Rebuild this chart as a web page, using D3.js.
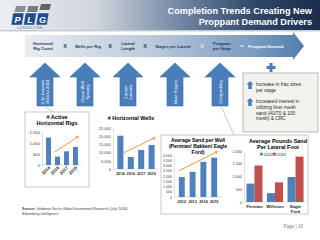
<!DOCTYPE html>
<html>
<head>
<meta charset="utf-8">
<script src="https://cdn.jsdelivr.net/npm/d3@7"></script>
<style>
  body { margin: 0; background: #fff; }
  svg { display: block; }
</style>
</head>
<body>
<div id="slide"></div>
<script>
// ---- data ----
const rigYears = ['2014', '2016', '2017', '2019'];
const rigCounts = [1250, 380, 620, 820];
const rigTicks = [0, 500, 1000, 1500];

const wellYears = ['2014', '2016', '2017', '2019'];
const wellCounts = [20300, 7300, 11600, 14600];
const wellTicks = [0, 5000, 10000, 15000, 20000, 25000];

const sandYears = ['2012', '2013', '2014', '2015'];
const sandPerWell = [1900, 2400, 3350, 3750];
const sandTicks = [0, 500, 1000, 1500, 2000, 2500, 3000, 3500, 4000];

const basins = ['Permian', 'Williston', 'Eagle Ford'];
const lbsYears = ['2012', '2015'];
const lbs2012 = [720, 350, 980];
const lbs2015 = [1430, 770, 1780];
const lbsTicks = [0, 500, 1000, 1500, 2000];

const drivers = [['2.1x increase', '2016 to 2018'], ['Closer Well', 'Spacing'], ['Longer', 'Laterals'], ['More Stages'], ['Overpacking']];
const equation = [['Horizontal', 'Rig Count'], ['X'], ['Wells per Rig'], ['X'], ['Lateral', 'Length'], ['X'], ['Stages per Lateral'], ['X'], ['Proppant', 'per Stage'], ['='], ['Proppant Demand']];
const notes = [['Increase in frac sizes', 'per stage'], ['Increased interest in', 'utilizing finer mesh', 'sand (40/70 & 100', 'mesh) & CRC']];

// ---- layout ----
const W = 320, H = 240;
const font = '"Liberation Sans", Arial, sans-serif';
const blue = '#4f81bd', red = '#c0504d', orange = '#f79646', arrowBlue = '#4a7ebb', navy = '#1f3864';

const svg = d3.select('#slide').append('svg')
    .attr('width', W).attr('height', H)
    .attr('font-family', font);
const defs = svg.append('defs');

function gradient(id, stops) {
    const g = defs.append('linearGradient').attr('id', id);
    stops.forEach(([o, c]) => g.append('stop').attr('offset', o).attr('stop-color', c));
}
gradient('hdr', [[0, '#eceef1'], [0.3, '#cfd5dc'], [0.58, '#6d82a0'], [0.8, '#2f4668'], [1, '#1b2d4b']]);
gradient('band', [[0, '#e9edf2'], [0.45, '#bccadb'], [0.8, '#7e9dc1'], [1, '#517dad']]);

defs.append('marker')
    .attr('id', 'tip').attr('viewBox', '0 0 10 10')
    .attr('refX', 6).attr('refY', 5)
    .attr('markerWidth', 3.5).attr('markerHeight', 3.5)
    .attr('orient', 'auto')
    .append('path').attr('d', 'M0,0 L10,5 L0,10 z').attr('fill', orange);

// header
svg.append('rect').attr('width', W).attr('height', 30).attr('fill', 'url(#hdr)');
svg.append('rect').attr('y', 30).attr('width', W).attr('height', 1.5).attr('fill', '#c9cdd3');
svg.append('g').selectAll('text')
    .data(['Completion Trends Creating New', 'Proppant Demand Drivers'])
    .join('text')
    .attr('x', 312).attr('y', (d, i) => 14 + i * 11)
    .attr('text-anchor', 'end')
    .attr('fill', '#fff').attr('font-weight', 'bold').attr('font-size', 9.2)
    .text(d => d);

// logo
const logo = svg.append('g').attr('transform', 'translate(10,5)');
['P', 'L', 'G'].forEach((l, i) => {
    const x = i * 12.5;
    logo.append('path')
        .attr('d', `M${x + 6},${i === 2 ? -1 : 1} h10 l-1.5,6 h-10 z`)
        .attr('fill', ['#8a9097', '#757b82', '#5f656c'][i]);
    logo.append('path')
        .attr('d', `M${x + 3},8 h11 l-2,12 h-11 z`)
        .attr('fill', '#1f4e8c').attr('stroke', '#fff').attr('stroke-width', 0.4);
    logo.append('text')
        .attr('x', x + 7.5).attr('y', 18)
        .attr('text-anchor', 'middle')
        .attr('fill', '#fff').attr('font-weight', 'bold').attr('font-style', 'italic').attr('font-size', 9)
        .text(l);
});
logo.append('text')
    .attr('x', 20).attr('y', 24)
    .attr('text-anchor', 'middle')
    .attr('fill', '#1f4e8c').attr('font-size', 2.6).attr('letter-spacing', 0.9)
    .text('CONSULTING');

// equation banner
svg.append('path')
    .attr('d', 'M25,35 H293 V32 L304,46 L293,60 V57 H25 Z')
    .attr('fill', 'url(#band)');
const eqX = [43, 65, 88, 110, 128, 145, 173, 202, 222, 242, 266];
equation.forEach((lines, i) => {
    const single = lines[0] === 'X' || lines[0] === '=';
    const t = svg.append('text')
        .attr('text-anchor', 'middle')
        .attr('fill', i >= 9 ? '#fff' : (i === 7 ? '#eee8c6' : navy))
        .attr('font-weight', 'bold')
        .attr('font-size', single ? 5.5 : 4.1);
    lines.forEach((s, j) => t.append('tspan')
        .attr('x', eqX[i])
        .attr('y', 47.5 + (j - (lines.length - 1) / 2) * 4.8)
        .text(s));
});

// up arrows for drivers
function upArrow(cx, top, bottom, headW, headH, shaftW) {
    return `M${cx},${top} L${cx + headW / 2},${top + headH} L${cx + shaftW / 2},${top + headH}` +
        ` L${cx + shaftW / 2},${bottom} L${cx - shaftW / 2},${bottom} L${cx - shaftW / 2},${top + headH}` +
        ` L${cx - headW / 2},${top + headH} Z`;
}
const driverX = [45, 85, 128, 175, 220];
drivers.forEach((lines, i) => {
    const cx = driverX[i];
    svg.append('path')
        .attr('d', upArrow(cx, 63, 106, 30, 14, 16))
        .attr('fill', arrowBlue).attr('stroke', '#3a69a3').attr('stroke-width', 0.6);
    const t = svg.append('text')
        .attr('transform', `translate(${cx},92) rotate(-90)`)
        .attr('text-anchor', 'middle')
        .attr('fill', '#fff').attr('font-size', 4.2);
    lines.forEach((s, j) => t.append('tspan')
        .attr('x', 0)
        .attr('y', 1.5 + (j - (lines.length - 1) / 2) * 4.8)
        .text(s));
});

// plus sign and note box
svg.append('path')
    .attr('d', 'M269.5,63 h3 v3 h3 v3 h-3 v3 h-3 v-3 h-3 v-3 h3 z')
    .attr('fill', arrowBlue);
svg.append('rect')
    .attr('x', 243).attr('y', 73).attr('width', 75).attr('height', 59)
    .attr('fill', '#f2f2ee').attr('stroke', '#8c8c8c').attr('stroke-width', 0.6);
const noteY = [86, 103];
notes.forEach((lines, i) => {
    svg.append('path')
        .attr('d', upArrow(250, noteY[i] - 5, noteY[i] + 3, 7, 3.5, 3.5))
        .attr('fill', arrowBlue);
    const t = svg.append('text').attr('fill', '#262626').attr('font-size', 4.8);
    lines.forEach((s, j) => t.append('tspan').attr('x', 256).attr('y', noteY[i] + j * 5.8).text(s));
});

// connector lines
svg.append('line').attr('x1', 44).attr('y1', 106).attr('x2', 53).attr('y2', 112)
    .attr('stroke', '#a6a6a6').attr('stroke-width', 0.6);
svg.append('line').attr('x1', 221).attr('y1', 106).attr('x2', 234).attr('y2', 135)
    .attr('stroke', '#a6a6a6').attr('stroke-width', 0.6);

// ---- chart helpers ----
function title(x, y, lines, size, gap) {
    svg.append('g').selectAll('text').data(lines).join('text')
        .attr('x', x).attr('y', (d, i) => y + i * gap)
        .attr('text-anchor', 'middle')
        .attr('font-weight', 'bold').attr('font-size', size).attr('fill', '#000')
        .text(d => d);
}

function yAxis(y, x0, ticks, size) {
    const g = svg.append('g')
        .attr('transform', `translate(${x0},0)`)
        .call(d3.axisLeft(y).tickValues(ticks).tickFormat(d3.format(',')).tickSize(0).tickPadding(2));
    g.select('.domain').attr('stroke', '#bfbfbf').attr('stroke-width', 0.5);
    g.selectAll('text').attr('font-size', size).attr('font-family', font).attr('fill', '#404040');
}

function baseline(x0, x1, y) {
    svg.append('line').attr('x1', x0).attr('x2', x1).attr('y1', y).attr('y2', y)
        .attr('stroke', '#bfbfbf').attr('stroke-width', 0.5);
}

function bars(x, y, cats, vals, color) {
    svg.append('g').selectAll('rect')
        .data(cats.map((c, i) => ({ c, v: vals[i] })))
        .join('rect')
        .attr('x', d => x(d.c)).attr('width', x.bandwidth())
        .attr('y', d => y(d.v)).attr('height', d => y(0) - y(d.v))
        .attr('fill', color);
}

function trend(xa, ya, xb, yb) {
    svg.append('line')
        .attr('x1', xa).attr('y1', ya).attr('x2', xb).attr('y2', yb)
        .attr('stroke', orange).attr('stroke-width', 1)
        .attr('marker-end', 'url(#tip)');
}

// chart 1: # Active Horizontal Rigs
svg.append('rect')
    .attr('x', 25).attr('y', 112).attr('width', 64).attr('height', 75)
    .attr('fill', '#fff').attr('stroke', '#a6a6a6').attr('stroke-width', 0.6);
title(57, 118.5, ['# Active', 'Horizontal Rigs'], 5.6, 6.8);
const x1 = d3.scaleBand().domain(rigYears).range([42, 82]).padding(0.45);
const y1 = d3.scaleLinear().domain([0, 1500]).range([165, 132]);
yAxis(y1, 42, rigTicks, 4.2);
baseline(42, 82, y1(0));
bars(x1, y1, rigYears, rigCounts, blue);
svg.append('g').selectAll('text').data(rigYears).join('text')
    .attr('transform', d => `translate(${x1(d) + x1.bandwidth() / 2 + 2},${y1(0) + 3}) rotate(-45)`)
    .attr('text-anchor', 'end')
    .attr('font-size', 4.4).attr('font-weight', 'bold').attr('fill', '#262626')
    .text(d => d);
trend(x1('2016'), y1(600), x1('2019') + x1.bandwidth(), y1(1280));

// chart 2: # Horizontal Wells
title(131, 120, ['# Horizontal Wells'], 5.4, 0);
const x2 = d3.scaleBand().domain(wellYears).range([113, 159]).padding(0.42);
const y2 = d3.scaleLinear().domain([0, 25000]).range([169, 128]);
yAxis(y2, 113, wellTicks, 4);
baseline(113, 159, y2(0));
bars(x2, y2, wellYears, wellCounts, blue);
svg.append('g').selectAll('text').data(wellYears).join('text')
    .attr('x', d => x2(d) + x2.bandwidth() / 2).attr('y', y2(0) + 5.5)
    .attr('text-anchor', 'middle')
    .attr('font-size', 3.8).attr('font-weight', 'bold').attr('fill', '#262626')
    .text(d => d);
trend(x2('2014') + x2.bandwidth(), y2(9800), x2('2019') + x2.bandwidth(), y2(19000));

// box around charts 3 and 4
svg.append('rect')
    .attr('x', 161).attr('y', 135).attr('width', 147).attr('height', 79)
    .attr('fill', '#fff').attr('stroke', '#a6a6a6').attr('stroke-width', 0.6);

// chart 3: Average Sand per Well
title(198, 142, ['Average Sand per Well', '(Permian/ Bakken/ Eagle', 'Ford)'], 5, 5.8);
const x3 = d3.scaleBand().domain(sandYears).range([174, 222]).padding(0.45);
const y3 = d3.scaleLinear().domain([0, 4000]).range([197, 155]);
yAxis(y3, 174, sandTicks, 3.6);
baseline(174, 222, y3(0));
bars(x3, y3, sandYears, sandPerWell, blue);
svg.append('g').selectAll('text').data(sandYears).join('text')
    .attr('x', d => x3(d) + x3.bandwidth() / 2).attr('y', y3(0) + 5.5)
    .attr('text-anchor', 'middle')
    .attr('font-size', 3.8).attr('font-weight', 'bold').attr('fill', '#262626')
    .text(d => d);
trend(x3('2012'), y3(2500), x3('2015') + x3.bandwidth(), y3(4300));

// chart 4: Average Pounds Sand Per Lateral Foot
title(278, 143, ['Average Pounds Sand', 'Per Lateral Foot'], 5.5, 6);
const x4 = d3.scaleBand().domain(basins).range([244, 306]).paddingInner(0.22).paddingOuter(0.12);
const x4s = d3.scaleBand().domain(lbsYears).range([0, x4.bandwidth()]);
const y4 = d3.scaleLinear().domain([0, 2000]).range([202, 151]);
const c4 = d3.scaleOrdinal().domain(lbsYears).range([blue, red]);
yAxis(y4, 244, lbsTicks, 3.8);
baseline(244, 306, y4(0));
const lbsRows = basins.flatMap((b, i) => [
    { b, yr: '2012', v: lbs2012[i] },
    { b, yr: '2015', v: lbs2015[i] }
]);
svg.append('g').selectAll('rect').data(lbsRows).join('rect')
    .attr('x', d => x4(d.b) + x4s(d.yr)).attr('width', x4s.bandwidth())
    .attr('y', d => y4(d.v)).attr('height', d => y4(0) - y4(d.v))
    .attr('fill', d => c4(d.yr));
basins.forEach(b => {
    const parts = b === 'Eagle Ford' ? ['Eagle', 'Ford'] : [b];
    svg.append('g').selectAll('text').data(parts).join('text')
        .attr('x', x4(b) + x4.bandwidth() / 2).attr('y', (d, i) => y4(0) + 5.5 + i * 5)
        .attr('text-anchor', 'middle')
        .attr('font-size', 4.2).attr('font-weight', 'bold').attr('fill', '#262626')
        .text(d => d);
});
const legend = svg.append('g').attr('transform', 'translate(260,155.5)');
lbsYears.forEach((yr, i) => {
    legend.append('rect').attr('x', i * 13).attr('y', -2.8).attr('width', 2.8).attr('height', 2.8).attr('fill', c4(yr));
    legend.append('text').attr('x', i * 13 + 3.8).attr('y', 0)
        .attr('font-size', 4.2).attr('fill', '#262626').text(yr);
});

// footer
const src = svg.append('text').attr('font-size', 3.6).attr('fill', '#404040');
src.append('tspan').attr('x', 22).attr('y', 210).attr('font-weight', 'bold').text('Source: ');
src.append('tspan').text('Goldman Sachs Global Investment Research (July 2016);');
src.append('tspan').attr('x', 22).attr('y', 215).text('Bloomberg Intelligence');
svg.append('text')
    .attr('x', 303).attr('y', 228)
    .attr('text-anchor', 'end')
    .attr('font-size', 4.6).attr('fill', '#7f7f7f')
    .text('Page | 16');
</script>
</body>
</html>
